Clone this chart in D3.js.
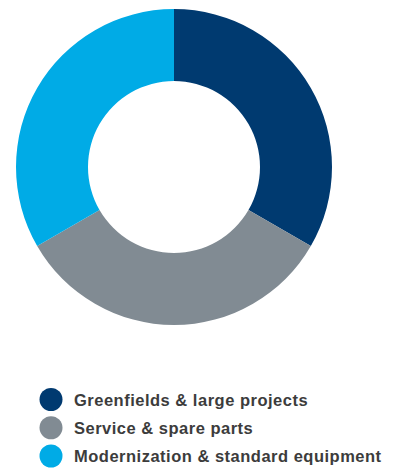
<!DOCTYPE html>
<html>
<head>
<meta charset="utf-8">
<script src="https://cdn.jsdelivr.net/npm/d3@7"></script>
<style>
  body { margin: 0; background: #fff; }
  .legend text { font-family: "Liberation Sans", Arial, sans-serif; font-weight: bold; font-size: 16.5px; letter-spacing: 0.5px; fill: #3c3c3c; }
</style>
</head>
<body>
<div id="plot"></div>
<script>
var categories = ["Greenfields & large projects", "Service & spare parts", "Modernization & standard equipment"];
var values = [1, 1, 1];
var colors = ["#003a70", "#818b93", "#00abe6"];

var width = 400, height = 468;
var cx = 174, cy = 167;
var outerR = 158, innerR = 86;

var svg = d3.select("div#plot")
  .append("svg")
    .attr("width", width)
    .attr("height", height);

var color = d3.scaleOrdinal()
  .domain(categories)
  .range(colors);

var pie = d3.pie()
  .sort(null)
  .value(function(d, i) { return values[i]; });

var arc = d3.arc()
  .innerRadius(innerR)
  .outerRadius(outerR);

var g = svg.append("g")
  .attr("transform", "translate(" + cx + "," + cy + ")");

g.selectAll("path")
  .data(pie(categories))
  .enter().append("path")
    .attr("d", arc)
    .style("fill", function(d) { return color(d.data); });

// legend
var y = d3.scalePoint()
  .domain(categories)
  .range([399.5, 456]);

var legend = svg.selectAll(".legend")
  .data(categories)
  .enter().append("g")
  .attr("class", "legend")
  .attr("transform", function(d) { return "translate(51," + y(d) + ")"; });

legend.append("circle")
  .attr("r", 11.5)
  .style("fill", color);

legend.append("text")
  .attr("x", 23)
  .attr("y", 6)
  .text(function(d) { return d; });
</script>
</body>
</html>
